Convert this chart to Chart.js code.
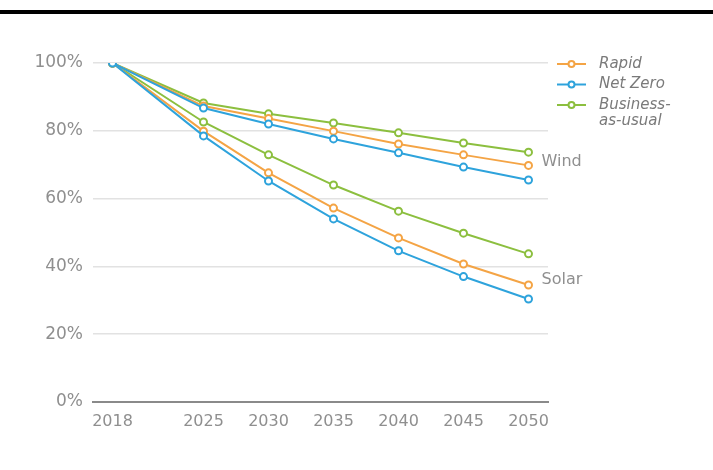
<!DOCTYPE html>
<html>
<head>
<meta charset="utf-8">
<script src="https://cdn.jsdelivr.net/npm/chart.js@4/dist/chart.umd.min.js"></script>
<style>
    html, body { margin: 0; padding: 0; background: #fff; }
    #wrap { position: relative; width: 713px; height: 470px; }
    #topBar { position: absolute; left: 0; top: 10px; width: 713px; height: 4px; background: #000; }
</style>
</head>
<body>
<div id="wrap">
    <canvas id="chart" width="713" height="470"></canvas>
    <div id="topBar"></div>
</div>
<script>
// =====================================================
// DATA
// =====================================================
const years = [2018, 2025, 2030, 2035, 2040, 2045, 2050];
const yTicks = [0, 20, 40, 60, 80, 100];

const windRapid   = [100, 87.3, 83.6, 79.9, 76.1, 72.9, 69.8];
const windNetZero = [100, 86.7, 82.0, 77.6, 73.5, 69.3, 65.5];
const windBau     = [100, 88.2, 85.0, 82.3, 79.4, 76.4, 73.7];

const solarRapid   = [100, 79.9, 67.6, 57.2, 48.4, 40.7, 34.5];
const solarNetZero = [100, 78.5, 65.2, 54.0, 44.6, 37.0, 30.4];
const solarBau     = [100, 82.6, 72.9, 64.0, 56.3, 49.8, 43.7];

const scenarios = [
    { label: 'Rapid', lines: ['Rapid'], color: '#f4a445' },
    { label: 'Net Zero', lines: ['Net Zero'], color: '#2ea3dc' },
    { label: 'Business-as-usual', lines: ['Business-', 'as-usual'], color: '#8cbf3f' }
];

const TEXT_GREY = '#8f8f8f';
const FONT = '"DejaVu Sans", sans-serif';

function series(values, scenario, group) {
    return {
        label: scenario.label + ' ' + group,
        data: years.map((y, i) => ({ x: y, y: values[i] })),
        borderColor: scenario.color,
        backgroundColor: '#ffffff',
        borderWidth: 2,
        pointRadius: 3.5,
        pointBorderWidth: 2,
        pointBackgroundColor: '#ffffff',
        pointBorderColor: scenario.color,
        tension: 0
    };
}

// =====================================================
// PLUGINS
// =====================================================
const sideLabels = {
    id: 'sideLabels',
    afterDatasetsDraw(chart) {
        const ctx = chart.ctx;
        const x = chart.scales.x;
        const y = chart.scales.y;
        ctx.save();
        ctx.fillStyle = TEXT_GREY;
        ctx.font = '16px ' + FONT;
        ctx.textBaseline = 'middle';
        ctx.textAlign = 'left';
        const px = x.getPixelForValue(years[years.length - 1]) + 13;
        ctx.fillText('Wind', px, y.getPixelForValue(windRapid[windRapid.length - 1]) - 4);
        ctx.fillText('Solar', px, y.getPixelForValue(solarRapid[solarRapid.length - 1]) - 5);
        ctx.restore();
    }
};

const customLegend = {
    id: 'customLegend',
    afterDraw(chart) {
        const ctx = chart.ctx;
        ctx.save();
        ctx.font = 'italic 15px ' + FONT;
        ctx.textBaseline = 'middle';
        ctx.textAlign = 'left';
        let rowY = 64;
        scenarios.forEach(s => {
            ctx.strokeStyle = s.color;
            ctx.lineWidth = 2;
            ctx.beginPath();
            ctx.moveTo(557, rowY);
            ctx.lineTo(586, rowY);
            ctx.stroke();
            ctx.beginPath();
            ctx.arc(571.5, rowY, 3, 0, Math.PI * 2);
            ctx.fillStyle = '#fff';
            ctx.fill();
            ctx.stroke();
            ctx.fillStyle = '#7a7a7a';
            s.lines.forEach((line, i) => {
                ctx.fillText(line, 599, rowY + i * 16);
            });
            rowY += 20.5;
        });
        ctx.restore();
    }
};

// =====================================================
// CHART
// =====================================================
const ctx = document.getElementById('chart').getContext('2d');
new Chart(ctx, {
    type: 'line',
    data: {
        datasets: [
            series(windNetZero, scenarios[1], 'Wind'),
            series(windRapid, scenarios[0], 'Wind'),
            series(windBau, scenarios[2], 'Wind'),
            series(solarNetZero, scenarios[1], 'Solar'),
            series(solarRapid, scenarios[0], 'Solar'),
            series(solarBau, scenarios[2], 'Solar')
        ]
    },
    options: {
        responsive: false,
        animation: false,
        layout: { padding: { top: 63, right: 165, bottom: 0, left: 0 } },
        plugins: {
            legend: { display: false },
            tooltip: { enabled: false }
        },
        scales: {
            x: {
                type: 'linear',
                min: 2016.5,
                max: 2051.5,
                afterBuildTicks: axis => { axis.ticks = years.map(v => ({ value: v })); },
                afterFit: axis => { axis.height = 68; },
                grid: { display: false, drawTicks: false },
                border: { display: true, color: '#8a8a8a', width: 2 },
                ticks: {
                    color: TEXT_GREY,
                    font: { family: FONT, size: 16 },
                    padding: 10,
                    autoSkip: false,
                    maxRotation: 0,
                    callback: v => String(v)
                }
            },
            y: {
                min: 0,
                max: 100,
                afterBuildTicks: axis => { axis.ticks = yTicks.map(v => ({ value: v })); },
                afterFit: axis => { axis.width = 93; },
                grid: {
                    color: ctx => ctx.tick.value === 0 ? 'rgba(0,0,0,0)' : '#e2e2e2',
                    lineWidth: 1.5,
                    drawTicks: false
                },
                border: { display: false },
                ticks: {
                    color: TEXT_GREY,
                    font: { family: FONT, size: 17 },
                    padding: 10,
                    callback: v => v + '%'
                }
            }
        }
    },
    plugins: [sideLabels, customLegend]
});
</script>
</body>
</html>
